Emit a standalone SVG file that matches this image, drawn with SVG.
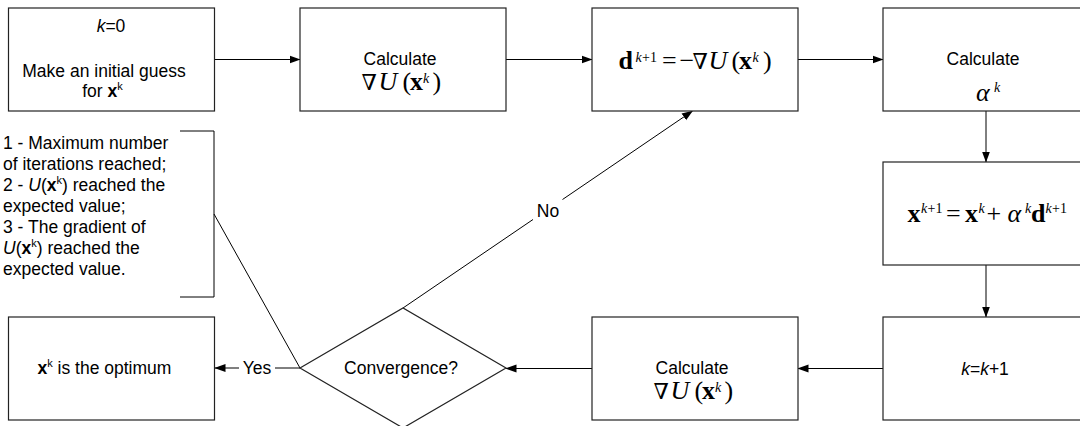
<svg xmlns="http://www.w3.org/2000/svg" width="1080" height="426" viewBox="0 0 1080 426">
<defs>
<marker id="arr" markerUnits="userSpaceOnUse" markerWidth="11" markerHeight="9" refX="10.5" refY="4" orient="auto" viewBox="0 0 11 8">
<path d="M0,0 L11,4 L0,8 z" fill="#000"/>
</marker>
<style>
.box{fill:#fff;stroke:#222;stroke-width:1.2}
.ln{fill:none;stroke:#000;stroke-width:1}
.t{font-family:"Liberation Sans",Arial,sans-serif;font-size:17.5px;fill:#000}
.m{font-family:"Liberation Serif","Times New Roman","DejaVu Serif",serif;font-size:26px;fill:#000}
.nab{font-family:"DejaVu Serif",serif;font-size:22px;font-style:normal;font-weight:normal}
.ms{font-family:"Liberation Serif","Times New Roman","DejaVu Serif",serif;font-size:14px;font-style:italic;fill:#000}
.msu{font-family:"Liberation Serif","Times New Roman","DejaVu Serif",serif;font-size:14px;fill:#000}
.b{font-weight:bold}
.i{font-style:italic}
</style>
</defs>
<rect width="1080" height="426" fill="#fff"/>
<g id="connectors">
<line class="ln" x1="215" y1="59.5" x2="300" y2="59.5" marker-end="url(#arr)"/>
<line class="ln" x1="506" y1="59.5" x2="592" y2="59.5" marker-end="url(#arr)"/>
<line class="ln" x1="798" y1="59.5" x2="883" y2="59.5" marker-end="url(#arr)"/>
<line class="ln" x1="986" y1="111" x2="986" y2="162" marker-end="url(#arr)"/>
<line class="ln" x1="986" y1="265" x2="986" y2="317" marker-end="url(#arr)"/>
<line class="ln" x1="883" y1="368.5" x2="798" y2="368.5" marker-end="url(#arr)"/>
<line class="ln" x1="592" y1="368.5" x2="506" y2="368.5" marker-end="url(#arr)"/>
<line class="ln" x1="300" y1="368" x2="275" y2="368"/>
<line class="ln" x1="239" y1="368" x2="215" y2="368" marker-end="url(#arr)"/>
<text class="t" x="257" y="374" text-anchor="middle">Yes</text>
<line class="ln" x1="403" y1="308" x2="533" y2="219.5"/>
<line class="ln" x1="562.5" y1="199.5" x2="692.5" y2="111" marker-end="url(#arr)"/>
<text class="t" x="548" y="216.7" text-anchor="middle">No</text>
<polyline class="ln" points="180,131 214,131 214,297 180,297"/>
<line class="ln" x1="214" y1="214" x2="300" y2="368"/>
</g>
<g id="note">
<text class="t" x="3" y="149">1 - Maximum number</text>
<text class="t" x="3" y="170">of iterations reached;</text>
<text class="t" x="3" y="191">2 - <tspan class="i">U</tspan>(<tspan class="b">x</tspan><tspan dy="-7" font-size="11">k</tspan><tspan dy="7">) reached the</tspan></text>
<text class="t" x="3" y="212">expected value;</text>
<text class="t" x="3" y="233">3 - The gradient of</text>
<text class="t" x="3" y="254"><tspan class="i">U</tspan>(<tspan class="b">x</tspan><tspan dy="-7" font-size="11">k</tspan><tspan dy="7">) reached the</tspan></text>
<text class="t" x="3" y="275">expected value.</text>
</g>
<g id="n-start">
<rect class="box" x="8.5" y="8" width="206" height="103"/>
<text class="t" x="111" y="31.7" text-anchor="middle"><tspan class="i">k</tspan>=0</text>
<text class="t" x="104" y="76.7" text-anchor="middle">Make an initial guess</text>
<text class="t" x="102.5" y="96.7" text-anchor="middle">for <tspan class="b">x</tspan><tspan dy="-7" font-size="11">k</tspan></text>
</g>
<g id="n-grad1">
<rect class="box" x="300" y="8" width="206" height="103"/>
<text class="t" x="400" y="65" text-anchor="middle">Calculate</text>
<text class="m" y="90"><tspan x="361.5" class="nab">∇</tspan><tspan x="378.5" class="i">U</tspan><tspan x="402.5">(</tspan><tspan x="410" class="b">x</tspan><tspan x="432.5">)</tspan></text>
<text class="ms" x="423" y="83">k</text>
</g>
<g id="n-dir">
<rect class="box" x="592" y="8" width="206" height="103"/>
<text class="m" y="69"><tspan x="618.5" class="b">d</tspan><tspan x="662">=</tspan><tspan x="679.5">−</tspan><tspan x="692.5" class="nab">∇</tspan><tspan x="708.5" class="i">U</tspan><tspan x="731.5">(</tspan><tspan x="739" class="b">x</tspan><tspan x="763">)</tspan></text>
<text class="msu" y="61.5"><tspan x="635.5" class="i">k</tspan><tspan x="642">+1</tspan></text>
<text class="ms" x="752.5" y="62">k</text>
</g>
<g id="n-alpha">
<rect class="box" x="883" y="8" width="206" height="103"/>
<text class="t" x="983" y="65" text-anchor="middle">Calculate</text>
<text class="m i" x="976" y="101">α</text>
<text class="ms" x="994" y="92">k</text>
</g>
<g id="n-update">
<rect class="box" x="883" y="162" width="206" height="103"/>
<text class="m" y="221.5"><tspan x="907.5" class="b">x</tspan><tspan x="946">=</tspan><tspan x="965" class="b">x</tspan><tspan x="986.5">+</tspan><tspan x="1007.5" class="i">α</tspan><tspan x="1031" class="b">d</tspan></text>
<text class="msu" y="213"><tspan x="921" class="i">k</tspan><tspan x="927.5">+1</tspan></text>
<text class="ms" x="978.5" y="213">k</text>
<text class="ms" x="1025" y="213">k</text>
<text class="msu" y="213"><tspan x="1045.5" class="i">k</tspan><tspan x="1052">+1</tspan></text>
</g>
<g id="n-inc">
<rect class="box" x="883" y="317" width="206" height="103"/>
<text class="t" x="985" y="374.5" text-anchor="middle"><tspan class="i">k</tspan>=<tspan class="i">k</tspan>+1</text>
</g>
<g id="n-grad2">
<rect class="box" x="592" y="317" width="206" height="103"/>
<text class="t" x="692" y="374" text-anchor="middle">Calculate</text>
<text class="m" y="399"><tspan x="653.5" class="nab">∇</tspan><tspan x="670.5" class="i">U</tspan><tspan x="694.5">(</tspan><tspan x="702" class="b">x</tspan><tspan x="724.5">)</tspan></text>
<text class="ms" x="715" y="392">k</text>
</g>
<g id="n-conv">
<polygon class="box" points="300,368 403,308 506,368 403,428"/>
<text class="t" x="401" y="374" text-anchor="middle">Convergence?</text>
</g>
<g id="n-opt">
<rect class="box" x="8.5" y="317" width="206" height="103"/>
<text class="t" x="37.5" y="374"><tspan class="b">x</tspan><tspan dy="-7" font-size="11">k</tspan><tspan dy="7"> is the optimum</tspan></text>
</g>
</svg>
